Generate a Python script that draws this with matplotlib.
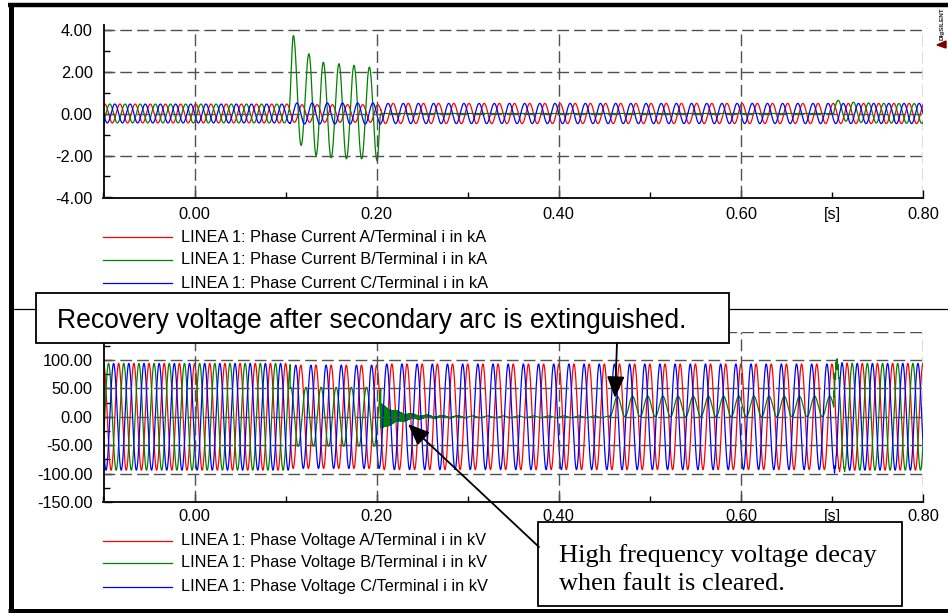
import numpy as np
import matplotlib
matplotlib.use("Agg")
import matplotlib.pyplot as plt
from matplotlib.lines import Line2D
from matplotlib.patches import Rectangle, FancyArrowPatch, Polygon
from matplotlib.ticker import FixedLocator, FuncFormatter, NullFormatter

# ------------------------------------------------------------------
# Data
# ------------------------------------------------------------------
FREQ_HZ = 60.0
T_RANGE = [-0.1, 0.8]
T_FAULT = 0.105          # single phase (B) fault
T_OPEN = 0.2045          # breaker pole B opens (current zero)
T_EXTINCT = 0.456        # secondary arc extinguished
T_RECLOSE = 0.702        # reclosing

# --- currents (kA) : amplitudes [pre-fault, fault, open pole, reclosed]
I_A_AMP = [0.45, 0.42, 0.48, 0.48]
I_B_AMP = [0.45, 0.00, 0.00, 0.47]
I_C_AMP = [0.45, 0.50, 0.48, 0.48]
I_PHASE_DEG = [-30.0, -150.0, 90.0]
# phase B fault current, successive extrema (time s, value kA)
IB_FAULT_T = [0.1035, 0.1085, 0.1170, 0.1256, 0.1335, 0.1414, 0.1500,
              0.1586, 0.1668, 0.1751, 0.1835, 0.1920, 0.2005, 0.2045]
IB_FAULT_V = [0.10, 3.71, -1.52, 2.84, -2.00, 2.44, -2.11,
              2.37, -2.16, 2.29, -2.16, 2.21, -2.25, 0.00]
IB_RECLOSE_DC = 0.20      # kA, decaying offset after reclosing
IB_RECLOSE_TAU = 0.02     # s

# --- voltages (kV) : amplitudes [pre-fault, fault, open pole, reclosed]
V_A_AMP = [94.0, 91.0, 93.0, 94.0]
V_B_AMP = [94.0, 52.0, 0.0, 94.0]
V_C_AMP = [94.0, 91.0, 93.0, 94.0]
V_PHASE_DEG = [0.0, -120.0, 120.0]
# phase B after opening : high frequency decay
VB_HF_AMP = 22.0          # kV
VB_HF_FREQ = 1800.0       # Hz
VB_HF_TAU = 0.02          # s
VB_RESIDUAL = 1.5         # kV, small 60 Hz residual on open pole
# phase B recovery voltage after arc extinction (offset + amplitude)
VB_RECOVERY_OFFSET = 18.0
VB_RECOVERY_AMP = 18.0
VB_RECOVERY_PHASE_DEG = 50.0
# reclosing transient
V_RECLOSE_HF_AMP = [6.0, 15.0, 6.0]
V_RECLOSE_HF_FREQ = 900.0
V_RECLOSE_HF_TAU = 0.006

CURRENT_LABELS = ["LINEA 1: Phase Current A/Terminal i in kA",
                  "LINEA 1: Phase Current B/Terminal i in kA",
                  "LINEA 1: Phase Current C/Terminal i in kA"]
VOLTAGE_LABELS = ["LINEA 1: Phase Voltage A/Terminal i in kV",
                  "LINEA 1: Phase Voltage B/Terminal i in kV",
                  "LINEA 1: Phase Voltage C/Terminal i in kV"]
X_TICKS = [0.0, 0.2, 0.4, 0.6, 0.8]
I_TICKS = [-4.0, -2.0, 0.0, 2.0, 4.0]
V_TICKS = [-150.0, -100.0, -50.0, 0.0, 50.0, 100.0, 150.0]
V_HIDDEN_LABEL = 150.0    # this label sits under the annotation box

NOTE_TOP = "Recovery voltage after secondary arc is extinguished."
NOTE_BOTTOM = ["High frequency voltage decay", "when fault is cleared."]

# ------------------------------------------------------------------
# Build the waveforms
# ------------------------------------------------------------------
t = np.arange(T_RANGE[0], T_RANGE[1] + 1e-9, 2e-5)
w = 2 * np.pi * FREQ_HZ


def sinus(amp, phase_deg, offset=0.0):
    return offset + amp * np.cos(w * t + np.radians(phase_deg))


def through_extrema(tx, vx):
    out = np.zeros_like(t)
    for i in range(len(tx) - 1):
        m = (t >= tx[i]) & (t < tx[i + 1])
        f = (t[m] - tx[i]) / (tx[i + 1] - tx[i])
        out[m] = vx[i] + (vx[i + 1] - vx[i]) * (1 - np.cos(np.pi * f)) / 2
    return out


def assemble(bounds, pieces):
    out = np.zeros_like(t)
    for (t0, t1), arr in zip(bounds, pieces):
        m = (t >= t0) & (t < t1 + (1e-9 if t1 >= T_RANGE[1] else 0))
        out[m] = arr[m]
    return out


END = T_RANGE[1]
std_bounds = [(T_RANGE[0], T_FAULT), (T_FAULT, T_OPEN), (T_OPEN, T_RECLOSE), (T_RECLOSE, END)]

# currents
i_a = assemble(std_bounds, [sinus(a, I_PHASE_DEG[0]) for a in I_A_AMP])
i_c = assemble(std_bounds, [sinus(a, I_PHASE_DEG[2]) for a in I_C_AMP])
ib_after = sinus(I_B_AMP[3], I_PHASE_DEG[1]) + IB_RECLOSE_DC * np.exp(-np.clip(t - T_RECLOSE, 0, None) / IB_RECLOSE_TAU)
i_b = assemble([(T_RANGE[0], IB_FAULT_T[0]), (IB_FAULT_T[0], IB_FAULT_T[-1]),
                (IB_FAULT_T[-1], T_RECLOSE), (T_RECLOSE, END)],
               [sinus(I_B_AMP[0], I_PHASE_DEG[1]), through_extrema(IB_FAULT_T, IB_FAULT_V),
                np.zeros_like(t), ib_after])

# voltages
tr = np.clip(t - T_RECLOSE, 0, None)
reclose_env = np.exp(-tr / V_RECLOSE_HF_TAU)
hf_rec = np.sin(2 * np.pi * V_RECLOSE_HF_FREQ * tr)


def phase_voltage(amps, ph, hf_amp):
    after = sinus(amps[3], ph) + hf_amp * reclose_env * hf_rec
    return assemble(std_bounds, [sinus(amps[0], ph), sinus(amps[1], ph), sinus(amps[2], ph), after])


v_a = phase_voltage(V_A_AMP, V_PHASE_DEG[0], V_RECLOSE_HF_AMP[0])
v_c = phase_voltage(V_C_AMP, V_PHASE_DEG[2], V_RECLOSE_HF_AMP[2])
to = np.clip(t - T_OPEN, 0, None)
vb_open = (VB_HF_AMP * np.exp(-to / VB_HF_TAU) * np.sin(2 * np.pi * VB_HF_FREQ * to)
           + sinus(VB_RESIDUAL, V_PHASE_DEG[1]))
vb_recovery = sinus(VB_RECOVERY_AMP, VB_RECOVERY_PHASE_DEG, VB_RECOVERY_OFFSET)
vb_after = sinus(V_B_AMP[3], V_PHASE_DEG[1]) + V_RECLOSE_HF_AMP[1] * reclose_env * hf_rec
v_b = assemble([(T_RANGE[0], T_FAULT), (T_FAULT, T_OPEN), (T_OPEN, T_EXTINCT),
                (T_EXTINCT, T_RECLOSE), (T_RECLOSE, END)],
               [sinus(V_B_AMP[0], V_PHASE_DEG[1]), sinus(V_B_AMP[1], V_PHASE_DEG[1]),
                vb_open, vb_recovery, vb_after])

# ------------------------------------------------------------------
# Figure
# ------------------------------------------------------------------
plt.rcParams['font.family'] = ['Liberation Sans', 'DejaVu Sans']
W, H = 948, 613
fig = plt.figure(figsize=(W / 100, H / 100), dpi=100)


def fx(x):
    return x / W


def fy(y):
    return 1 - y / H


def axes_px(left, top, right, bottom):
    return fig.add_axes([fx(left), fy(bottom), (right - left) / W, (bottom - top) / H])


COLORS_I = ['#ff0000', '#008000', '#0000ff']
COLORS_V = ['#ff0000', '#008000', '#0000ff']
GRID = dict(color='#505050', lw=1.0, ls=(0, (8.5, 3.6)), zorder=3)
TICK_FS = 11.8

ax1 = axes_px(103.5, 25.3, 923, 197.5)
ax2 = axes_px(103.5, 331.6, 923, 502)


def yfmt_top(v, p):
    return f"{v:.2f}"


def yfmt_bottom(v, p):
    return "" if abs(v - V_HIDDEN_LABEL) < 1e-9 else f"{v:.2f}"


for ax, series, colors, yticks, ylim, fmt_pad, yfmt in [
        (ax1, [i_a, i_b, i_c], COLORS_I, I_TICKS, (-4, 4.2), 6.8, yfmt_top),
        (ax2, [v_a, v_b, v_c], COLORS_V, V_TICKS, (-150, 150), 5.0, yfmt_bottom)]:
    for y, c in zip(series, colors):
        ax.plot(t, y, color=c, lw=0.9, zorder=2)
    ax.set_xlim(T_RANGE)
    ax.set_ylim(ylim)
    for sp in ['top', 'right']:
        ax.spines[sp].set_visible(False)
    for sp in ['left', 'bottom']:
        ax.spines[sp].set_linewidth(1.3)
        ax.spines[sp].set_zorder(4)
    ax.xaxis.set_major_locator(FixedLocator(X_TICKS))
    ax.xaxis.set_minor_locator(FixedLocator([-0.1, 0.1, 0.3, 0.5, 0.7]))
    ax.xaxis.set_major_formatter(FuncFormatter(lambda v, p: f"{v:.2f}"))
    ax.xaxis.set_minor_formatter(FuncFormatter(lambda v, p: "[s]" if abs(v - 0.7) < 1e-6 else ""))
    ax.yaxis.set_major_locator(FixedLocator(yticks))
    step = (yticks[1] - yticks[0]) / 2
    ax.yaxis.set_minor_locator(FixedLocator(np.arange(yticks[0], yticks[-1] + 1e-9, step)))
    ax.yaxis.set_major_formatter(FuncFormatter(yfmt))
    ax.yaxis.set_minor_formatter(NullFormatter())
    ax.tick_params(which='both', direction='in', labelsize=TICK_FS, width=1.0)
    ax.tick_params(which='major', length=6)
    ax.tick_params(which='minor', length=4)
    ax.tick_params(axis='x', which='both', pad=fmt_pad)
    ax.tick_params(axis='y', which='both', pad=7.8)
    # dashed grid drawn over the traces
    for yv in yticks[1:]:
        ax.plot(T_RANGE, [yv, yv], **GRID)
    for xv in X_TICKS:
        ax.plot([xv, xv], [ylim[0], yticks[-1]], **GRID)

# ------------------------------------------------------------------
# Legends (manual, as in the DIgSILENT export)
# ------------------------------------------------------------------
for labels, colors, ys in [(CURRENT_LABELS, COLORS_I, [237, 260, 283]),
                           (VOLTAGE_LABELS, COLORS_V, [541, 563, 587])]:
    for lab, c, y in zip(labels, colors, ys):
        fig.add_artist(Line2D([fx(103), fx(172)], [fy(y), fy(y)], color=c, lw=0.9))
        fig.text(fx(181), fy(y), lab, fontsize=TICK_FS, va='center', ha='left')

# ------------------------------------------------------------------
# Frame, separator, annotations
# ------------------------------------------------------------------
K = 'black'
fig.add_artist(Line2D([fx(8), fx(W)], [fy(5), fy(5)], color=K, lw=3.2, solid_capstyle='butt'))
fig.add_artist(Line2D([fx(10.5), fx(10.5)], [fy(3), fy(H)], color=K, lw=3.6, solid_capstyle='butt'))
fig.add_artist(Line2D([fx(8), fx(W)], [fy(610.5), fy(610.5)], color=K, lw=3.6, solid_capstyle='butt'))
fig.add_artist(Line2D([fx(12), fx(W)], [fy(309), fy(309)], color=K, lw=0.9, zorder=1))

box1 = Rectangle((fx(36), fy(343)), (729 - 36) / W, (343 - 293) / H, transform=fig.transFigure,
                 facecolor='white', edgecolor=K, lw=1.3, zorder=5)
fig.add_artist(box1)
fig.text(fx(57), fy(328), NOTE_TOP, fontsize=19.1, ha='left', va='baseline', zorder=6)

box2 = Rectangle((fx(538), fy(606)), (902 - 538) / W, (606 - 522) / H, transform=fig.transFigure,
                 facecolor='white', edgecolor=K, lw=1.3, zorder=5)
fig.add_artist(box2)
for txt, yb in zip(NOTE_BOTTOM, [562, 590]):
    fig.text(fx(559), fy(yb), txt, fontsize=19, ha='left', va='baseline', zorder=6,
             family=['Liberation Serif', 'DejaVu Serif'])

for (x0, y0), (x1, y1) in [((617, 343), (615, 398)), ((539, 547), (408, 424))]:
    arr = FancyArrowPatch((fx(x0), fy(y0)), (fx(x1), fy(y1)), transform=fig.transFigure,
                          arrowstyle='-|>,head_length=1.1,head_width=0.45', mutation_scale=12,
                          color=K, lw=1.3, zorder=6, shrinkA=0, shrinkB=0)
    fig.add_artist(arr)

# small DIgSILENT logo
fig.text(fx(942), fy(40), "DIgSILENT", rotation=90, fontsize=4.6, fontweight='bold',
         ha='center', va='bottom', color='#222222')
fig.add_artist(Polygon([[fx(937), fy(45)], [fx(946), fy(41)], [fx(946), fy(48)]],
                       closed=True, transform=fig.transFigure, color='#7a0000'))

fig.savefig("out.png", dpi=100)
